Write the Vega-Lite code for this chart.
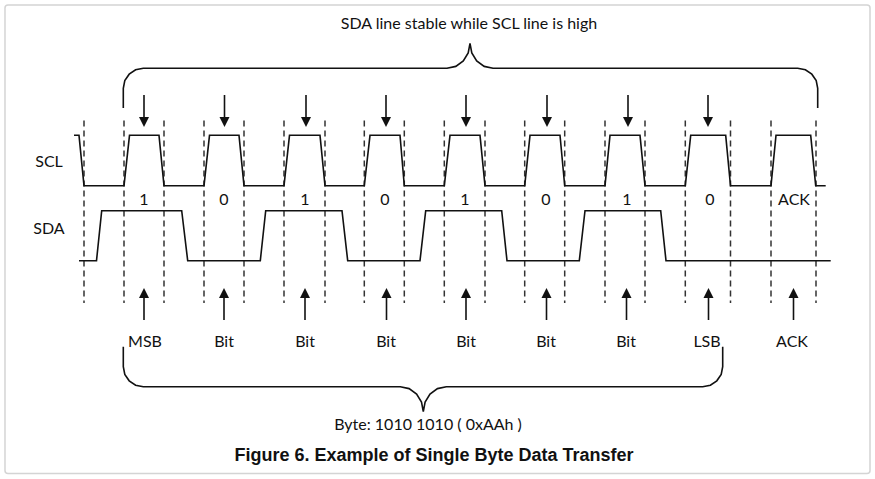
{
  "$schema": "https://vega.github.io/schema/vega-lite/v6.json",
  "width": 875,
  "height": 479,
  "autosize": {"type": "fit", "contains": "padding"},
  "padding": 0,
  "background": "white",
  "config": {
    "view": {"stroke": null},
    "text": {"font": "Lato", "fontSize": 16, "color": "#111111", "baseline": "middle", "align": "center"}
  },
  "datasets": {
    "frame": [{"x": 5, "x2": 870, "y": 5, "y2": 473.5}],
    "signals": [
      {"signal": "SCL", "i": 1, "x": 74, "y": 135.3},
      {"signal": "SCL", "i": 2, "x": 79, "y": 135.3},
      {"signal": "SCL", "i": 3, "x": 84, "y": 185.7},
      {"signal": "SCL", "i": 4, "x": 124, "y": 185.7},
      {"signal": "SCL", "i": 5, "x": 129.5, "y": 135.3},
      {"signal": "SCL", "i": 6, "x": 159, "y": 135.3},
      {"signal": "SCL", "i": 7, "x": 164, "y": 185.7},
      {"signal": "SCL", "i": 8, "x": 204, "y": 185.7},
      {"signal": "SCL", "i": 9, "x": 209.5, "y": 135.3},
      {"signal": "SCL", "i": 10, "x": 239, "y": 135.3},
      {"signal": "SCL", "i": 11, "x": 244, "y": 185.7},
      {"signal": "SCL", "i": 12, "x": 284, "y": 185.7},
      {"signal": "SCL", "i": 13, "x": 289.5, "y": 135.3},
      {"signal": "SCL", "i": 14, "x": 320, "y": 135.3},
      {"signal": "SCL", "i": 15, "x": 325, "y": 185.7},
      {"signal": "SCL", "i": 16, "x": 364.3, "y": 185.7},
      {"signal": "SCL", "i": 17, "x": 370, "y": 135.3},
      {"signal": "SCL", "i": 18, "x": 400, "y": 135.3},
      {"signal": "SCL", "i": 19, "x": 404.3, "y": 185.7},
      {"signal": "SCL", "i": 20, "x": 444.3, "y": 185.7},
      {"signal": "SCL", "i": 21, "x": 450, "y": 135.3},
      {"signal": "SCL", "i": 22, "x": 480, "y": 135.3},
      {"signal": "SCL", "i": 23, "x": 485, "y": 185.7},
      {"signal": "SCL", "i": 24, "x": 524.7, "y": 185.7},
      {"signal": "SCL", "i": 25, "x": 530, "y": 135.3},
      {"signal": "SCL", "i": 26, "x": 560, "y": 135.3},
      {"signal": "SCL", "i": 27, "x": 564.7, "y": 185.7},
      {"signal": "SCL", "i": 28, "x": 605, "y": 185.7},
      {"signal": "SCL", "i": 29, "x": 610, "y": 135.3},
      {"signal": "SCL", "i": 30, "x": 640, "y": 135.3},
      {"signal": "SCL", "i": 31, "x": 645, "y": 185.7},
      {"signal": "SCL", "i": 32, "x": 685.3, "y": 185.7},
      {"signal": "SCL", "i": 33, "x": 690.7, "y": 135.3},
      {"signal": "SCL", "i": 34, "x": 725.7, "y": 135.3},
      {"signal": "SCL", "i": 35, "x": 730.5, "y": 185.7},
      {"signal": "SCL", "i": 36, "x": 771, "y": 185.7},
      {"signal": "SCL", "i": 37, "x": 776, "y": 135.3},
      {"signal": "SCL", "i": 38, "x": 810.7, "y": 135.3},
      {"signal": "SCL", "i": 39, "x": 815.7, "y": 185.7},
      {"signal": "SCL", "i": 40, "x": 825.7, "y": 185.7},
      {"signal": "SDA", "i": 1, "x": 79, "y": 260.7},
      {"signal": "SDA", "i": 2, "x": 96.5, "y": 260.7},
      {"signal": "SDA", "i": 3, "x": 101.7, "y": 210.7},
      {"signal": "SDA", "i": 4, "x": 181.7, "y": 210.7},
      {"signal": "SDA", "i": 5, "x": 187.7, "y": 260.7},
      {"signal": "SDA", "i": 6, "x": 260.3, "y": 260.7},
      {"signal": "SDA", "i": 7, "x": 265.7, "y": 210.7},
      {"signal": "SDA", "i": 8, "x": 342, "y": 210.7},
      {"signal": "SDA", "i": 9, "x": 347.7, "y": 260.7},
      {"signal": "SDA", "i": 10, "x": 420, "y": 260.7},
      {"signal": "SDA", "i": 11, "x": 425.7, "y": 210.7},
      {"signal": "SDA", "i": 12, "x": 501.7, "y": 210.7},
      {"signal": "SDA", "i": 13, "x": 507, "y": 260.7},
      {"signal": "SDA", "i": 14, "x": 579.3, "y": 260.7},
      {"signal": "SDA", "i": 15, "x": 585, "y": 210.7},
      {"signal": "SDA", "i": 16, "x": 660.7, "y": 210.7},
      {"signal": "SDA", "i": 17, "x": 666, "y": 260.7},
      {"signal": "SDA", "i": 18, "x": 830.7, "y": 260.7}
    ],
    "guides": [
      {"x": 84, "y": 120.5, "y2": 303},
      {"x": 124, "y": 120.5, "y2": 303},
      {"x": 164, "y": 120.5, "y2": 303},
      {"x": 204, "y": 120.5, "y2": 303},
      {"x": 244, "y": 120.5, "y2": 303},
      {"x": 284, "y": 120.5, "y2": 303},
      {"x": 325, "y": 120.5, "y2": 303},
      {"x": 364.3, "y": 120.5, "y2": 303},
      {"x": 404.3, "y": 120.5, "y2": 303},
      {"x": 444.3, "y": 120.5, "y2": 303},
      {"x": 485, "y": 120.5, "y2": 303},
      {"x": 524.7, "y": 120.5, "y2": 303},
      {"x": 564.7, "y": 120.5, "y2": 303},
      {"x": 605, "y": 120.5, "y2": 303},
      {"x": 645, "y": 120.5, "y2": 303},
      {"x": 685.3, "y": 120.5, "y2": 303},
      {"x": 730.5, "y": 120.5, "y2": 303},
      {"x": 771, "y": 120.5, "y2": 303},
      {"x": 816, "y": 120.5, "y2": 303}
    ],
    "braces": [
      {"part": "top", "i": 1, "x": 123.3, "y": 108},
      {"part": "top", "i": 2, "x": 123.3, "y": 88.3},
      {"part": "top", "i": 3, "x": 124.8, "y": 80.6},
      {"part": "top", "i": 4, "x": 129.2, "y": 74.2},
      {"part": "top", "i": 5, "x": 135.6, "y": 69.8},
      {"part": "top", "i": 6, "x": 143.3, "y": 68.3},
      {"part": "top", "i": 7, "x": 447, "y": 68.3},
      {"part": "top", "i": 8, "x": 455.8, "y": 66.4},
      {"part": "top", "i": 9, "x": 463.3, "y": 61},
      {"part": "top", "i": 10, "x": 468.2, "y": 52.9},
      {"part": "top", "i": 11, "x": 470, "y": 43.3},
      {"part": "top", "i": 12, "x": 471.8, "y": 52.9},
      {"part": "top", "i": 13, "x": 476.7, "y": 61},
      {"part": "top", "i": 14, "x": 484.2, "y": 66.4},
      {"part": "top", "i": 15, "x": 493, "y": 68.3},
      {"part": "top", "i": 16, "x": 797.7, "y": 68.3},
      {"part": "top", "i": 17, "x": 805.4, "y": 69.8},
      {"part": "top", "i": 18, "x": 811.8, "y": 74.2},
      {"part": "top", "i": 19, "x": 816.2, "y": 80.6},
      {"part": "top", "i": 20, "x": 817.7, "y": 88.3},
      {"part": "top", "i": 21, "x": 817.7, "y": 108},
      {"part": "bottom", "i": 1, "x": 123.3, "y": 346.7},
      {"part": "bottom", "i": 2, "x": 123.3, "y": 366.7},
      {"part": "bottom", "i": 3, "x": 124.8, "y": 374.4},
      {"part": "bottom", "i": 4, "x": 129.2, "y": 380.8},
      {"part": "bottom", "i": 5, "x": 135.6, "y": 385.2},
      {"part": "bottom", "i": 6, "x": 143.3, "y": 386.7},
      {"part": "bottom", "i": 7, "x": 400.3, "y": 386.7},
      {"part": "bottom", "i": 8, "x": 409.1, "y": 388.6},
      {"part": "bottom", "i": 9, "x": 416.6, "y": 394},
      {"part": "bottom", "i": 10, "x": 421.5, "y": 402.1},
      {"part": "bottom", "i": 11, "x": 423.3, "y": 411.7},
      {"part": "bottom", "i": 12, "x": 425.1, "y": 402.1},
      {"part": "bottom", "i": 13, "x": 430, "y": 394},
      {"part": "bottom", "i": 14, "x": 437.5, "y": 388.6},
      {"part": "bottom", "i": 15, "x": 446.3, "y": 386.7},
      {"part": "bottom", "i": 16, "x": 702.7, "y": 386.7},
      {"part": "bottom", "i": 17, "x": 710.4, "y": 385.2},
      {"part": "bottom", "i": 18, "x": 716.8, "y": 380.8},
      {"part": "bottom", "i": 19, "x": 721.2, "y": 374.4},
      {"part": "bottom", "i": 20, "x": 722.7, "y": 366.7},
      {"part": "bottom", "i": 21, "x": 722.7, "y": 346.7}
    ],
    "shafts": [
      {"x": 144, "y": 95, "y2": 118},
      {"x": 224.5, "y": 95, "y2": 118},
      {"x": 306, "y": 95, "y2": 118},
      {"x": 386, "y": 95, "y2": 118},
      {"x": 466, "y": 95, "y2": 118},
      {"x": 547, "y": 95, "y2": 118},
      {"x": 628, "y": 95, "y2": 118},
      {"x": 708, "y": 95, "y2": 118},
      {"x": 144, "y": 297, "y2": 320},
      {"x": 224, "y": 297, "y2": 320},
      {"x": 305, "y": 297, "y2": 320},
      {"x": 386.5, "y": 297, "y2": 320},
      {"x": 466, "y": 297, "y2": 320},
      {"x": 546.5, "y": 297, "y2": 320},
      {"x": 626.5, "y": 297, "y2": 320},
      {"x": 708.5, "y": 297, "y2": 320},
      {"x": 793.5, "y": 297, "y2": 320}
    ],
    "heads_down": [
      {"x": 144, "y": 122},
      {"x": 224.5, "y": 122},
      {"x": 306, "y": 122},
      {"x": 386, "y": 122},
      {"x": 466, "y": 122},
      {"x": 547, "y": 122},
      {"x": 628, "y": 122},
      {"x": 708, "y": 122}
    ],
    "heads_up": [
      {"x": 144, "y": 293},
      {"x": 224, "y": 293},
      {"x": 305, "y": 293},
      {"x": 386.5, "y": 293},
      {"x": 466, "y": 293},
      {"x": 546.5, "y": 293},
      {"x": 626.5, "y": 293},
      {"x": 708.5, "y": 293},
      {"x": 793.5, "y": 293}
    ],
    "labels": [
      {"x": 469, "y": 24, "text": "SDA line stable while SCL line is high"},
      {"x": 49, "y": 162, "text": "SCL"},
      {"x": 49, "y": 229, "text": "SDA"},
      {"x": 144, "y": 200, "text": "1"},
      {"x": 224, "y": 200, "text": "0"},
      {"x": 305, "y": 200, "text": "1"},
      {"x": 385, "y": 200, "text": "0"},
      {"x": 465, "y": 200, "text": "1"},
      {"x": 546, "y": 200, "text": "0"},
      {"x": 627, "y": 200, "text": "1"},
      {"x": 710, "y": 200, "text": "0"},
      {"x": 794, "y": 200, "text": "ACK"},
      {"x": 145, "y": 342, "text": "MSB"},
      {"x": 224, "y": 342, "text": "Bit"},
      {"x": 305, "y": 342, "text": "Bit"},
      {"x": 386, "y": 342, "text": "Bit"},
      {"x": 466, "y": 342, "text": "Bit"},
      {"x": 546, "y": 342, "text": "Bit"},
      {"x": 626, "y": 342, "text": "Bit"},
      {"x": 707, "y": 342, "text": "LSB"},
      {"x": 792, "y": 342, "text": "ACK"},
      {"x": 428, "y": 425, "text": "Byte: 1010 1010 ( 0xAAh )"}
    ],
    "caption": [
      {"x": 434, "y": 456, "text": "Figure 6. Example of Single Byte Data Transfer"}
    ]
  },
  "encoding": {
    "x": {"field": "x", "type": "quantitative", "scale": {"domain": [0, 875], "nice": false, "zero": false}, "axis": null},
    "y": {"field": "y", "type": "quantitative", "scale": {"domain": [0, 479], "nice": false, "zero": false, "reverse": true}, "axis": null}
  },
  "layer": [
    {
      "data": {"name": "frame"},
      "mark": {"type": "rect", "fill": "white", "stroke": "#d4d4d4", "strokeWidth": 1.5, "cornerRadius": 3},
      "encoding": {"x2": {"field": "x2"}, "y2": {"field": "y2"}}
    },
    {
      "data": {"name": "guides"},
      "mark": {"type": "rule", "color": "#333333", "strokeWidth": 1.5, "strokeDash": [6, 4]},
      "encoding": {"y2": {"field": "y2"}}
    },
    {
      "data": {"name": "signals"},
      "mark": {"type": "line", "color": "#111111", "strokeWidth": 1.6},
      "encoding": {
        "detail": {"field": "signal"},
        "order": {"field": "i", "type": "quantitative"}
      }
    },
    {
      "data": {"name": "braces"},
      "mark": {"type": "line", "color": "#111111", "strokeWidth": 1.6},
      "encoding": {
        "detail": {"field": "part"},
        "order": {"field": "i", "type": "quantitative"}
      }
    },
    {
      "data": {"name": "shafts"},
      "mark": {"type": "rule", "color": "#111111", "strokeWidth": 1.6},
      "encoding": {"y2": {"field": "y2"}}
    },
    {
      "data": {"name": "heads_down"},
      "mark": {"type": "point", "shape": "M-1,-1L1,-1L0,1Z", "size": 100, "filled": true, "color": "#111111", "opacity": 1}
    },
    {
      "data": {"name": "heads_up"},
      "mark": {"type": "point", "shape": "M-1,1L1,1L0,-1Z", "size": 100, "filled": true, "color": "#111111", "opacity": 1}
    },
    {
      "data": {"name": "labels"},
      "mark": {"type": "text"},
      "encoding": {"text": {"field": "text"}}
    },
    {
      "data": {"name": "caption"},
      "mark": {"type": "text", "font": "Liberation Sans", "fontWeight": "bold", "fontSize": 18},
      "encoding": {"text": {"field": "text"}}
    }
  ]
}
